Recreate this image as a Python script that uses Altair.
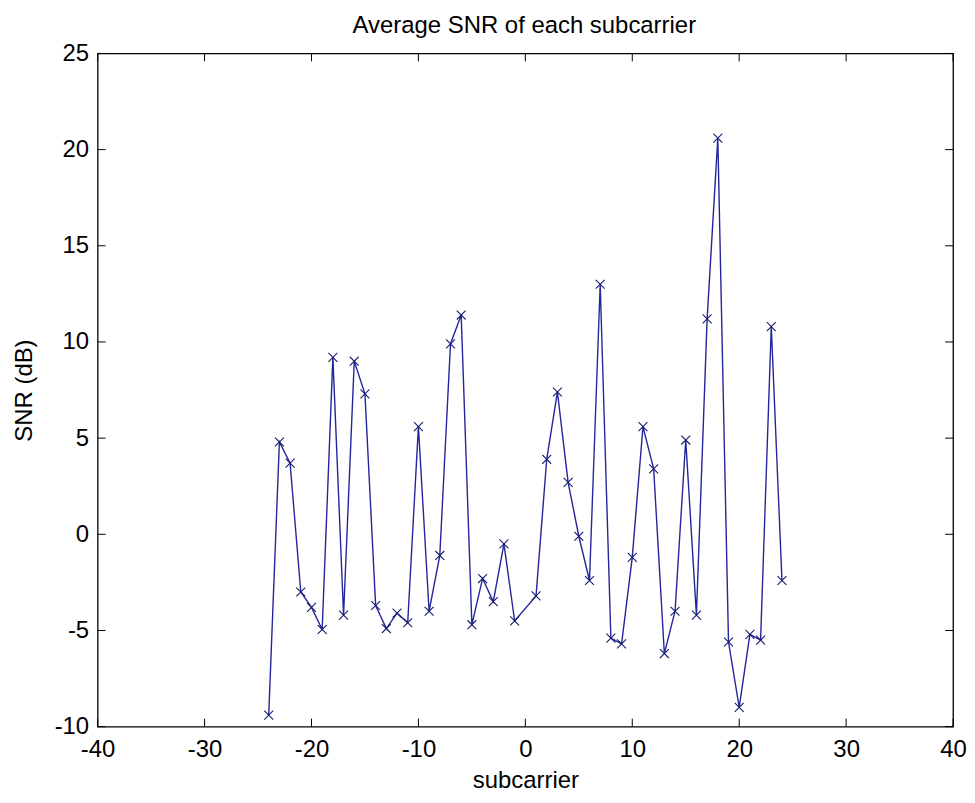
import altair as alt
import pandas as pd

# Data
subcarriers = list(range(-24, 0)) + list(range(1, 25))
snr_db = [-9.4, 4.8, 3.7, -3.0, -3.8, -4.95, 9.2, -4.2, 9.0, 7.3, -3.7, -4.9,
          -4.1, -4.6, 5.6, -4.0, -1.1, 9.9, 11.4, -4.7, -2.3, -3.5, -0.5, -4.5,
          -3.2, 3.9, 7.4, 2.7, -0.1, -2.4, 13.0, -5.4, -5.7, -1.2, 5.6, 3.4,
          -6.2, -4.0, 4.9, -4.2, 11.2, 20.6, -5.6, -9.0, -5.2, -5.5, 10.8, -2.4]
x_ticks = [-40, -30, -20, -10, 0, 10, 20, 30, 40]
y_ticks = [-10, -5, 0, 5, 10, 15, 20, 25]
chart_title = ["Average SNR of each subcarrier"]

W, H = 859, 676
TL = 8  # inner tick length
FONT = "Liberation Sans"
FS = 24
LINE_COLOR = "#25259c"
MARK_COLOR = "#1a1a70"

df = pd.DataFrame({"subcarrier": subcarriers, "snr": snr_db})
dx = pd.DataFrame({"subcarrier": x_ticks})
dy = pd.DataFrame({"snr": y_ticks})
dt = pd.DataFrame({"t": chart_title})

xscale = alt.Scale(domain=[-40, 40], nice=False, zero=False)
yscale = alt.Scale(domain=[-10, 25], nice=False, zero=False)

xaxis = alt.Axis(values=x_ticks, ticks=False, domain=False, grid=False,
                 labelFont=FONT, labelFontSize=FS, labelColor="black",
                 labelPadding=11, labelOverlap=False, labelFlush=False,
                 labelExpr="datum.value + ''",
                 title="subcarrier", titleFont=FONT, titleFontSize=FS,
                 titleFontWeight="normal", titleColor="black",
                 titleBaseline="alphabetic", titleY=61, titleX=W / 2,
                 titleAlign="center")
yaxis = alt.Axis(values=y_ticks, ticks=False, domain=False, grid=False,
                 labelFont=FONT, labelFontSize=FS, labelColor="black",
                 labelPadding=9, labelOverlap=False, labelFlush=False,
                 labelExpr="datum.value + ''",
                 title="SNR (dB)", titleFont=FONT, titleFontSize=FS,
                 titleFontWeight="normal", titleColor="black",
                 titleAngle=270, titleBaseline="alphabetic", titleX=-66,
                 titleY=H / 2, titleAlign="center")

xenc = alt.X("subcarrier:Q", scale=xscale, axis=xaxis)
yenc = alt.Y("snr:Q", scale=yscale, axis=yaxis)

line = alt.Chart(df).mark_line(color=LINE_COLOR, strokeWidth=1.4).encode(x=xenc, y=yenc)
points = alt.Chart(df).mark_point(
    shape="M-1,-1L1,1M-1,1L1,-1", filled=False, size=80,
    strokeWidth=1.1, color=MARK_COLOR, opacity=1
).encode(x=xenc, y=yenc)

tick_b = alt.Chart(dx).mark_rule(color="black", strokeWidth=1).encode(
    x=xenc, y=alt.value(H), y2=alt.value(H - TL))
tick_t = alt.Chart(dx).mark_rule(color="black", strokeWidth=1).encode(
    x=xenc, y=alt.value(0), y2=alt.value(TL))
tick_l = alt.Chart(dy).mark_rule(color="black", strokeWidth=1).encode(
    y=yenc, x=alt.value(0), x2=alt.value(TL))
tick_r = alt.Chart(dy).mark_rule(color="black", strokeWidth=1).encode(
    y=yenc, x=alt.value(W), x2=alt.value(W - TL))

title = alt.Chart(dt).mark_text(
    font=FONT, fontSize=FS, color="black", align="center",
    baseline="alphabetic"
).encode(text="t:N", x=alt.value(W / 2 - 1), y=alt.value(-21))

chart = alt.layer(line, points, tick_b, tick_t, tick_l, tick_r, title).properties(
    width=W, height=H,
    autosize=alt.AutoSizeParams(type="none"),
    padding={"left": 90, "top": 44, "right": 14, "bottom": 68},
    background="white",
).configure_view(stroke="black", strokeWidth=1.3)

chart.save("out.html", embed_options={"renderer": "svg", "actions": False})
